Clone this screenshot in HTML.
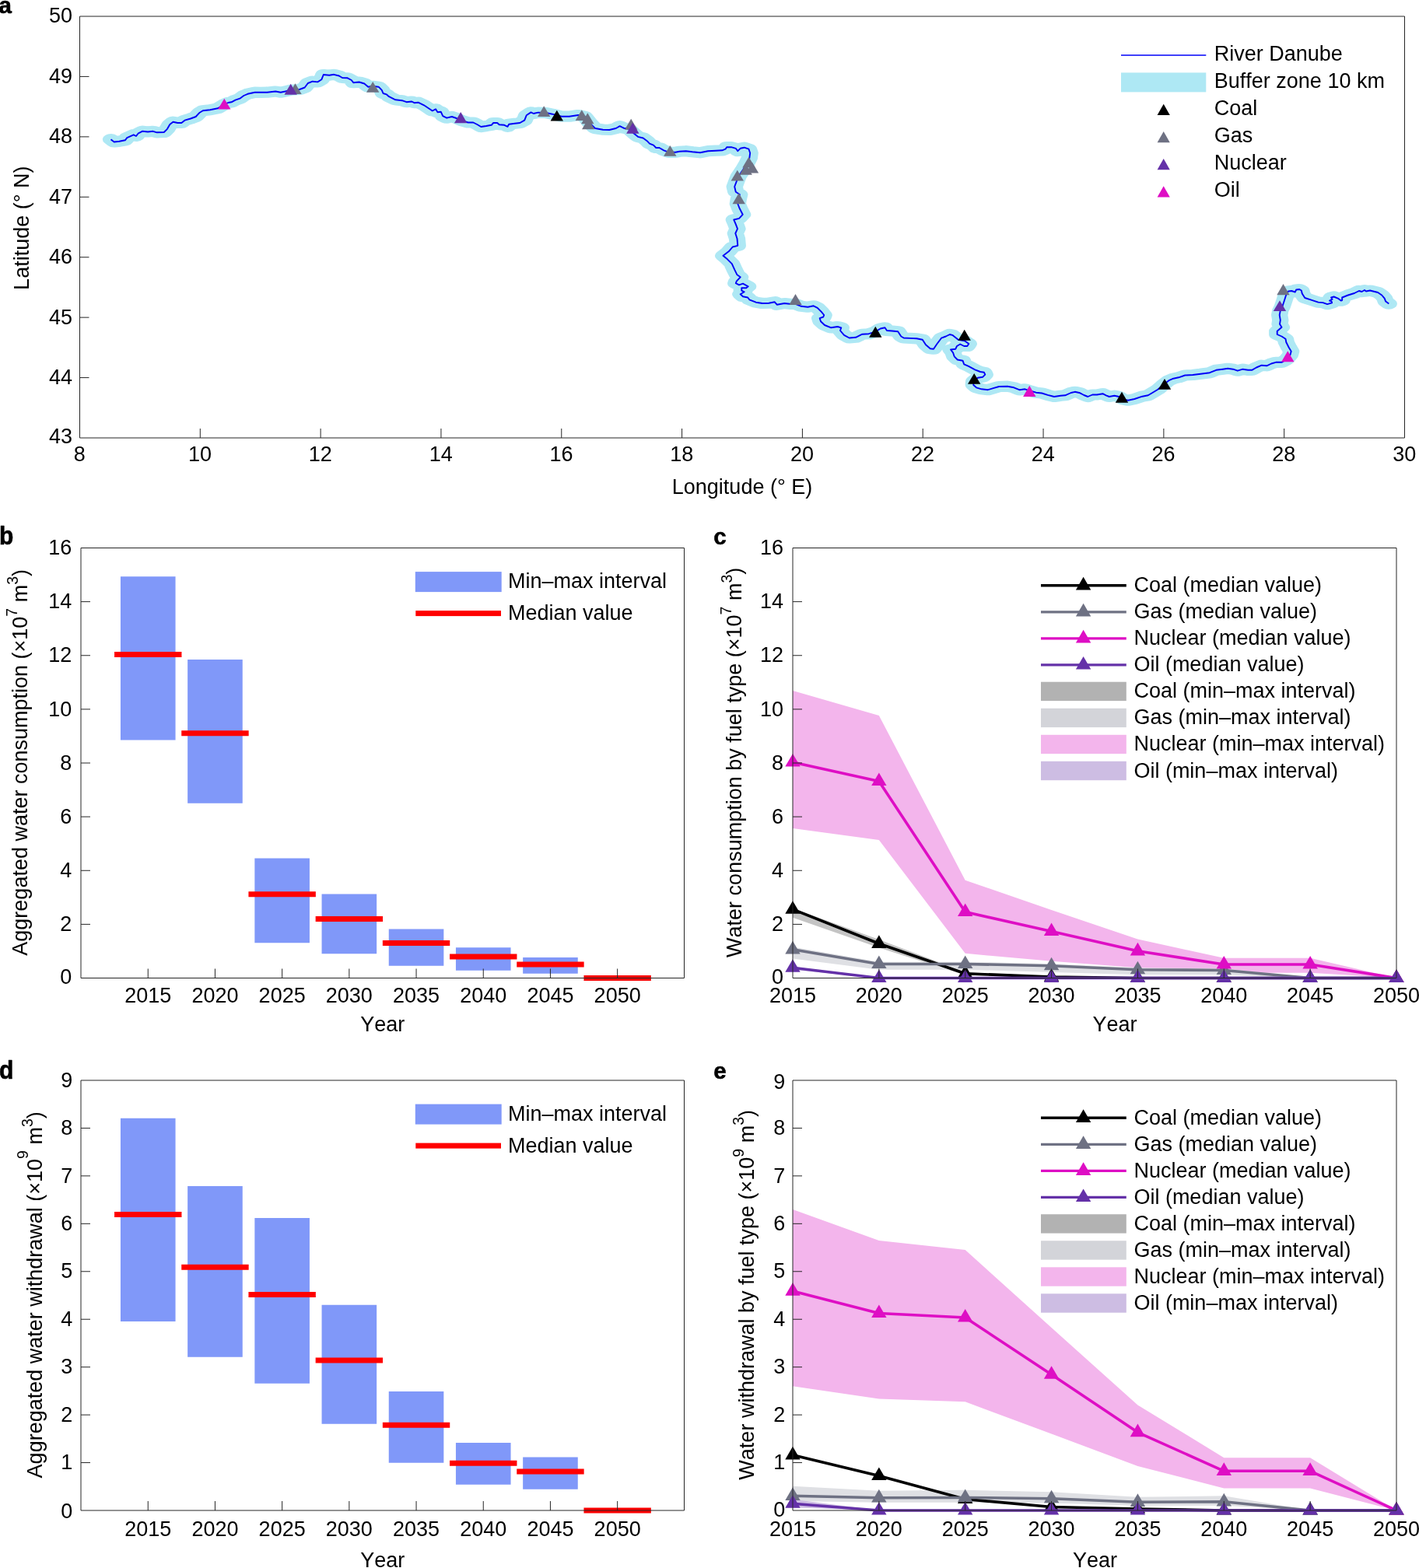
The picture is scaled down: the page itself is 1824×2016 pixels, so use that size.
<!DOCTYPE html>
<html lang="en">
<head>
<meta charset="utf-8">
<title>River Danube power plants: water consumption and withdrawal</title>
<style>
html,body{margin:0;padding:0;background:#fff;}
body{width:1824px;height:2016px;overflow:hidden;}
svg{display:block;font-family:"Liberation Sans",Arial,Helvetica,sans-serif;fill:#000;font-kerning:none;}
</style>
</head>
<body>
<svg width="1824" height="2016" viewBox="0 0 1824 2016">
<rect width="1824" height="2016" fill="#fff"/>
<g id="panel-a">
<polyline transform="scale(1.5 1)" points="95,179.2 97.8,182.5 102.2,181.7 107.2,180.3 108.87,177.2 114.47,173.3 116.67,175 118.33,171.7 122.2,168.7 126.67,169.5 131.13,168.8 134.47,170.3 140.53,170 143.33,165.8 145.53,160 148.33,156.7 152.2,158 155.53,158 158.33,154.7 163.33,152.5 167.8,150 171.13,144.7 173.87,142.2 180,141.2 186.67,139.2 192.2,134.2 195.53,132 198.33,131.3 201.67,128.7 205.53,126.7 208.87,123 212.2,120.8 218.33,118.7 223.33,118.8 228.87,118.7 236.13,117.5 240.53,118.7 244.47,117.5 248.87,115.8 256.67,115 261.13,112.5 263.87,107 267.8,104.7 272.2,105.4 275.53,102.3 277.2,96 282.2,96.7 286.13,95.8 290.53,97.5 293.33,100 297.8,100.3 301.13,103 302.8,106.2 307.8,105.5 312.2,107.5 315.53,111.7 319.33,110.8 324.47,111.7 327.2,115.8 328.33,120 331.13,121.3 333.33,124.2 338.87,128.3 344.47,129.2 348.33,131.2 352.8,130.5 355,132.2 358.33,131.7 363.33,135.3 367.8,139.7 370.53,142.5 373.33,140.3 375,144.2 377.8,143.7 379.47,149.2 382.8,151.7 387.2,150 391.13,152 395.53,155 401.13,157.5 405.53,157.5 408.87,160 412.2,163 416.67,162 421.13,160.8 422.8,158 426.13,158 427.8,160.3 432.2,160.8 435,162.8 436.13,159.7 441.13,158.8 445.53,158 449.47,154.7 451.13,148.3 455,144.4 457.2,146 461.13,144.6 467.8,145 473.33,146.7 481.13,149.7 487.8,149.7 495.53,148 501.13,150 505.53,158.3 510,165 516.67,166.7 522.2,167 527.8,165 531.13,162.2 534.47,164.7 538.87,165.8 543.33,171.7 546.67,175.8 551.13,177.5 554.47,181.2 556.67,184.7 560,186.7 562.2,190 565,190 568.87,193.3 573.33,195.8 578.87,195.8 582.2,194.7 587.8,194.2 593.33,195.3 600,196.3 606.67,194.2 613.33,193.7 618.87,193.3 621.67,191.7 622.8,189.2 626.67,189.2 630.53,190.8 632.2,194.2 634.47,190.8 637.8,189.7 641.67,191.7 642.8,196.7 642.2,203.3 640,210 636.67,218.3 632.8,226.7 631.13,233.3 629.47,240 630.53,246.7 633.87,250 632.8,256.7 632.2,262 633.87,268.3 636.47,275.8 633.33,280.8 628.87,282.5 630.53,288.3 632,294.2 630.2,300 631.67,306.7 632.2,315.8 627.8,317.5 624.47,323.3 619.67,328.8 623.33,333.3 627.2,339.2 629.47,346.7 631.67,353.3 634.47,356.3 631.13,361.7 630.53,364.2 633.33,366.3 636.67,364.7 641.13,368.3 639.47,370.3 635.53,370.3 635.53,373.7 637.8,375.3 634.47,378.3 636.67,381.3 640.8,382.5 642.2,385.3 647.8,388.7 653.33,390 658.87,389.7 663.87,388.3 665.8,391.7 672.2,390 676.67,390.8 681.67,390.8 686.67,393.8 692.2,394.7 697.2,393.3 700.53,395.8 703.87,400.8 706.13,405 705.53,407.5 702.47,409.2 703.33,413.3 706.67,418 712.2,421.3 717.8,420 720.87,421.3 720,425 723.33,430.8 727.8,434.5 733.33,433.8 738.87,429.7 744.47,429.2 750,426.7 754.47,422.5 758.33,421.3 760,425 764.47,425.5 769.47,426.3 772.2,432.5 774.47,434.5 780,434.9 785.53,435.3 790.53,436.7 793.33,443.3 797.2,448.3 800,448.7 802.8,442.5 806.67,434.7 810.53,432.5 813.87,430 816.13,430.8 821.13,436.7 826.67,438.3 830.2,442 828.87,445 826.13,445 822.8,442.5 820,445 818.87,448.7 814.67,449.5 816.67,453.3 817.8,458.3 820.53,462.5 825,463.7 826.13,468.3 830,470.8 835.53,475.3 840,478 843.33,478.8 844.2,481.7 842.2,484.7 837.8,485.8 834.47,490 834.2,495 836.67,498.3 841.13,500.3 846.67,501.2 851.13,499.2 856.13,497 863.33,496.7 868.87,498.3 873.87,501.3 878.33,500.3 882.8,502.5 887.8,504.7 892.8,505.5 897.8,507.8 903.33,510 908.87,508.8 912.8,508.3 917.8,505 921.13,503.8 925.53,505.3 928.87,508 932.2,510 936.13,507.5 940,507.5 945,506.2 947.8,508.3 950.53,510 955,508.7 958.87,510 962.2,513.3 966.67,514.7 972.2,513 978.87,509.7 983.87,508.3 987.8,504.7 992.2,500.8 996.67,495 1001.67,489.2 1005.53,486.7 1010,485.3 1015.53,482.5 1022.2,482 1028.87,480.8 1036.67,479.2 1042.2,475.8 1047.8,474.7 1052.2,473.8 1056.67,474.7 1060.53,476.7 1065,474.7 1069.47,475.8 1072.8,475.8 1076.67,472.5 1081.13,469.7 1085.53,470.3 1089.47,467.5 1093.33,465.8 1098.33,465.8 1102.2,462.5 1105.53,456.7 1106.47,451.7 1104.47,446.7 1102.2,440 1101.67,435.8 1098.33,432.5 1094.47,430 1094.47,425.8 1098.33,420.8 1096.67,416.7 1097.2,411.7 1096.47,405 1097.2,399.2 1098.87,394.2 1100.53,386.7 1102.07,379.5 1104.07,374.5 1106.8,374 1109.8,375.5 1110.8,372.5 1113.53,372 1115.2,373.5 1115.87,377.5 1118.2,383 1123.6,385.6 1129.67,388.6 1133.67,389.1 1137.4,391.1 1141.4,389.4 1141.07,387.6 1139.4,386.6 1141.73,384.6 1140.73,382.5 1143.07,381.5 1146.47,383.6 1149.13,386.6 1150.13,386.1 1150.13,382.5 1155.2,379.5 1160.6,377 1164.6,374 1167,375 1169.33,373 1170.67,374.5 1174,373.5 1180.73,376 1184.13,379.5 1186.47,383.6 1187.47,387.6 1190.2,390.6" fill="none" stroke="#aee8f4" stroke-width="14.2" stroke-linecap="round" stroke-linejoin="round"/>
<polyline points="142.5,179.2 146.7,182.5 153.3,181.7 160.8,180.3 163.3,177.2 171.7,173.3 175,175 177.5,171.7 183.3,168.7 190,169.5 196.7,168.8 201.7,170.3 210.8,170 215,165.8 218.3,160 222.5,156.7 228.3,158 233.3,158 237.5,154.7 245,152.5 251.7,150 256.7,144.7 260.8,142.2 270,141.2 280,139.2 288.3,134.2 293.3,132 297.5,131.3 302.5,128.7 308.3,126.7 313.3,123 318.3,120.8 327.5,118.7 335,118.8 343.3,118.7 354.2,117.5 360.8,118.7 366.7,117.5 373.3,115.8 385,115 391.7,112.5 395.8,107 401.7,104.7 408.3,105.4 413.3,102.3 415.8,96 423.3,96.7 429.2,95.8 435.8,97.5 440,100 446.7,100.3 451.7,103 454.2,106.2 461.7,105.5 468.3,107.5 473.3,111.7 479,110.8 486.7,111.7 490.8,115.8 492.5,120 496.7,121.3 500,124.2 508.3,128.3 516.7,129.2 522.5,131.2 529.2,130.5 532.5,132.2 537.5,131.7 545,135.3 551.7,139.7 555.8,142.5 560,140.3 562.5,144.2 566.7,143.7 569.2,149.2 574.2,151.7 580.8,150 586.7,152 593.3,155 601.7,157.5 608.3,157.5 613.3,160 618.3,163 625,162 631.7,160.8 634.2,158 639.2,158 641.7,160.3 648.3,160.8 652.5,162.8 654.2,159.7 661.7,158.8 668.3,158 674.2,154.7 676.7,148.3 682.5,144.4 685.8,146 691.7,144.6 701.7,145 710,146.7 721.7,149.7 731.7,149.7 743.3,148 751.7,150 758.3,158.3 765,165 775,166.7 783.3,167 791.7,165 796.7,162.2 801.7,164.7 808.3,165.8 815,171.7 820,175.8 826.7,177.5 831.7,181.2 835,184.7 840,186.7 843.3,190 847.5,190 853.3,193.3 860,195.8 868.3,195.8 873.3,194.7 881.7,194.2 890,195.3 900,196.3 910,194.2 920,193.7 928.3,193.3 932.5,191.7 934.2,189.2 940,189.2 945.8,190.8 948.3,194.2 951.7,190.8 956.7,189.7 962.5,191.7 964.2,196.7 963.3,203.3 960,210 955,218.3 949.2,226.7 946.7,233.3 944.2,240 945.8,246.7 950.8,250 949.2,256.7 948.3,262 950.8,268.3 954.7,275.8 950,280.8 943.3,282.5 945.8,288.3 948,294.2 945.3,300 947.5,306.7 948.3,315.8 941.7,317.5 936.7,323.3 929.5,328.8 935,333.3 940.8,339.2 944.2,346.7 947.5,353.3 951.7,356.3 946.7,361.7 945.8,364.2 950,366.3 955,364.7 961.7,368.3 959.2,370.3 953.3,370.3 953.3,373.7 956.7,375.3 951.7,378.3 955,381.3 961.2,382.5 963.3,385.3 971.7,388.7 980,390 988.3,389.7 995.8,388.3 998.7,391.7 1008.3,390 1015,390.8 1022.5,390.8 1030,393.8 1038.3,394.7 1045.8,393.3 1050.8,395.8 1055.8,400.8 1059.2,405 1058.3,407.5 1053.7,409.2 1055,413.3 1060,418 1068.3,421.3 1076.7,420 1081.3,421.3 1080,425 1085,430.8 1091.7,434.5 1100,433.8 1108.3,429.7 1116.7,429.2 1125,426.7 1131.7,422.5 1137.5,421.3 1140,425 1146.7,425.5 1154.2,426.3 1158.3,432.5 1161.7,434.5 1170,434.9 1178.3,435.3 1185.8,436.7 1190,443.3 1195.8,448.3 1200,448.7 1204.2,442.5 1210,434.7 1215.8,432.5 1220.8,430 1224.2,430.8 1231.7,436.7 1240,438.3 1245.3,442 1243.3,445 1239.2,445 1234.2,442.5 1230,445 1228.3,448.7 1222,449.5 1225,453.3 1226.7,458.3 1230.8,462.5 1237.5,463.7 1239.2,468.3 1245,470.8 1253.3,475.3 1260,478 1265,478.8 1266.3,481.7 1263.3,484.7 1256.7,485.8 1251.7,490 1251.3,495 1255,498.3 1261.7,500.3 1270,501.2 1276.7,499.2 1284.2,497 1295,496.7 1303.3,498.3 1310.8,501.3 1317.5,500.3 1324.2,502.5 1331.7,504.7 1339.2,505.5 1346.7,507.8 1355,510 1363.3,508.8 1369.2,508.3 1376.7,505 1381.7,503.8 1388.3,505.3 1393.3,508 1398.3,510 1404.2,507.5 1410,507.5 1417.5,506.2 1421.7,508.3 1425.8,510 1432.5,508.7 1438.3,510 1443.3,513.3 1450,514.7 1458.3,513 1468.3,509.7 1475.8,508.3 1481.7,504.7 1488.3,500.8 1495,495 1502.5,489.2 1508.3,486.7 1515,485.3 1523.3,482.5 1533.3,482 1543.3,480.8 1555,479.2 1563.3,475.8 1571.7,474.7 1578.3,473.8 1585,474.7 1590.8,476.7 1597.5,474.7 1604.2,475.8 1609.2,475.8 1615,472.5 1621.7,469.7 1628.3,470.3 1634.2,467.5 1640,465.8 1647.5,465.8 1653.3,462.5 1658.3,456.7 1659.7,451.7 1656.7,446.7 1653.3,440 1652.5,435.8 1647.5,432.5 1641.7,430 1641.7,425.8 1647.5,420.8 1645,416.7 1645.8,411.7 1644.7,405 1645.8,399.2 1648.3,394.2 1650.8,386.7 1653.1,379.5 1656.1,374.5 1660.2,374 1664.7,375.5 1666.2,372.5 1670.3,372 1672.8,373.5 1673.8,377.5 1677.3,383 1685.4,385.6 1694.5,388.6 1700.5,389.1 1706.1,391.1 1712.1,389.4 1711.6,387.6 1709.1,386.6 1712.6,384.6 1711.1,382.5 1714.6,381.5 1719.7,383.6 1723.7,386.6 1725.2,386.1 1725.2,382.5 1732.8,379.5 1740.9,377 1746.9,374 1750.5,375 1754,373 1756,374.5 1761,373.5 1771.1,376 1776.2,379.5 1779.7,383.6 1781.2,387.6 1785.3,390.6" fill="none" stroke="#0000f8" stroke-width="1.9" stroke-linejoin="round"/>
<polygon points="715.8,141.7 724,155.5 707.6,155.5" fill="#000000"/>
<polygon points="1125.3,419.7 1133.5,433.7 1117.1,433.7" fill="#000000"/>
<polygon points="1239.7,423.8 1247.9,437.8 1231.5,437.8" fill="#000000"/>
<polygon points="1252.2,480 1260.4,493.8 1244,493.8" fill="#000000"/>
<polygon points="1442,503.8 1450.2,517.8 1433.8,517.8" fill="#000000"/>
<polygon points="1497,487 1505.2,500.8 1488.8,500.8" fill="#000000"/>
<polygon points="379.5,107.2 387.7,121 371.3,121" fill="#6e7183"/>
<polygon points="479.2,105 487.4,118.7 471,118.7" fill="#6e7183"/>
<polygon points="699.2,136.2 707.4,150 691,150" fill="#6e7183"/>
<polygon points="747.8,141.2 756,155 739.6,155" fill="#6e7183"/>
<polygon points="755.3,145.3 763.5,159.2 747.1,159.2" fill="#6e7183"/>
<polygon points="756.2,152.5 764.4,166.3 748,166.3" fill="#6e7183"/>
<polygon points="811.2,152.8 819.4,166.7 803,166.7" fill="#6e7183"/>
<polygon points="861.3,187 869.5,200.8 853.1,200.8" fill="#6e7183"/>
<polygon points="962.5,201.7 970.7,215.5 954.3,215.5" fill="#6e7183"/>
<polygon points="958.7,210.8 966.9,224.7 950.5,224.7" fill="#6e7183"/>
<polygon points="967,208.7 975.2,222.5 958.8,222.5" fill="#6e7183"/>
<polygon points="947.8,218.7 956,232.5 939.6,232.5" fill="#6e7183"/>
<polygon points="949.7,248.3 957.9,262.2 941.5,262.2" fill="#6e7183"/>
<polygon points="1022.5,378 1030.7,392 1014.3,392" fill="#6e7183"/>
<polygon points="1649.5,365 1657.7,379.2 1641.3,379.2" fill="#6e7183"/>
<polygon points="373.7,107.8 381.9,121.7 365.5,121.7" fill="#6431a8"/>
<polygon points="592.2,143.9 600.4,158.2 584,158.2" fill="#6431a8"/>
<polygon points="813.3,157.8 821.5,171.7 805.1,171.7" fill="#6431a8"/>
<polygon points="1645,386.2 1653.2,400 1636.8,400" fill="#6431a8"/>
<polygon points="288.3,126.7 296.5,140.5 280.1,140.5" fill="#de0ec4"/>
<polygon points="1323.3,495.8 1331.5,510 1315.1,510" fill="#de0ec4"/>
<polygon points="1655.3,451.3 1663.5,465.3 1647.1,465.3" fill="#de0ec4"/>
<path d="M102.5 21H1805.5V563H102.5ZM257.32 563v-12M412.14 563v-12M566.95 563v-12M721.77 563v-12M876.59 563v-12M1031.41 563v-12M1186.23 563v-12M1341.05 563v-12M1495.86 563v-12M1650.68 563v-12M102.5 485.57h12M102.5 408.14h12M102.5 330.71h12M102.5 253.29h12M102.5 175.86h12M102.5 98.43h12" fill="none" stroke="#262626" stroke-width="1.0"/>
<text x="93" y="570.3" text-anchor="end" font-size="27">43</text>
<text x="93" y="494.07" text-anchor="end" font-size="27">44</text>
<text x="93" y="416.64" text-anchor="end" font-size="27">45</text>
<text x="93" y="339.21" text-anchor="end" font-size="27">46</text>
<text x="93" y="261.79" text-anchor="end" font-size="27">47</text>
<text x="93" y="184.36" text-anchor="end" font-size="27">48</text>
<text x="93" y="106.93" text-anchor="end" font-size="27">49</text>
<text x="93" y="28.9" text-anchor="end" font-size="27">50</text>
<text x="102.2" y="593.2" text-anchor="middle" font-size="27">8</text>
<text x="257.02" y="593.2" text-anchor="middle" font-size="27">10</text>
<text x="411.84" y="593.2" text-anchor="middle" font-size="27">12</text>
<text x="566.65" y="593.2" text-anchor="middle" font-size="27">14</text>
<text x="721.47" y="593.2" text-anchor="middle" font-size="27">16</text>
<text x="876.29" y="593.2" text-anchor="middle" font-size="27">18</text>
<text x="1031.11" y="593.2" text-anchor="middle" font-size="27">20</text>
<text x="1185.93" y="593.2" text-anchor="middle" font-size="27">22</text>
<text x="1340.75" y="593.2" text-anchor="middle" font-size="27">24</text>
<text x="1495.56" y="593.2" text-anchor="middle" font-size="27">26</text>
<text x="1650.38" y="593.2" text-anchor="middle" font-size="27">28</text>
<text x="1805.2" y="593.2" text-anchor="middle" font-size="27">30</text>
<text transform="translate(37 293.2) rotate(-90)" text-anchor="middle" font-size="27">Latitude (° N)</text>
<text x="954" y="635" text-anchor="middle" font-size="27">Longitude (° E)</text>
<line x1="1441" y1="71" x2="1550.3" y2="71" stroke="#0000f8" stroke-width="1.4"/>
<rect x="1441" y="93.4" width="109.3" height="25" fill="#aee8f4"/>
<text x="1560.8" y="78.3" text-anchor="start" font-size="27">River Danube</text>
<text x="1560.8" y="113.4" text-anchor="start" font-size="27">Buffer zone 10 km</text>
<text x="1560.8" y="148.2" text-anchor="start" font-size="27">Coal</text>
<text x="1560.8" y="183.1" text-anchor="start" font-size="27">Gas</text>
<text x="1560.8" y="218" text-anchor="start" font-size="27">Nuclear</text>
<text x="1560.8" y="253.4" text-anchor="start" font-size="27">Oil</text>
<polygon points="1495.7,133.8 1503.8,148.1 1487.6,148.1" fill="#000000"/>
<polygon points="1495.7,169 1503.8,183.3 1487.6,183.3" fill="#6e7183"/>
<polygon points="1495.7,204 1503.8,218.3 1487.6,218.3" fill="#6431a8"/>
<polygon points="1495.7,239.2 1503.8,253.5 1487.6,253.5" fill="#de0ec4"/>
</g>
<g id="panel-b">
<rect x="154.95" y="741.25" width="70.6" height="210.25" fill="#8098f9"/>
<rect x="241.15" y="848" width="70.6" height="184.75" fill="#8098f9"/>
<rect x="327.35" y="1103.5" width="70.6" height="108.75" fill="#8098f9"/>
<rect x="413.55" y="1149.5" width="70.6" height="76.75" fill="#8098f9"/>
<rect x="499.75" y="1194.5" width="70.6" height="47.25" fill="#8098f9"/>
<rect x="585.95" y="1218.25" width="70.6" height="29.5" fill="#8098f9"/>
<rect x="672.15" y="1231" width="70.6" height="20.75" fill="#8098f9"/>
<rect x="147.05" y="838" width="86.4" height="7" fill="#ff0000"/>
<rect x="233.25" y="939.25" width="86.4" height="7" fill="#ff0000"/>
<rect x="319.45" y="1146.25" width="86.4" height="7" fill="#ff0000"/>
<rect x="405.65" y="1178" width="86.4" height="7" fill="#ff0000"/>
<rect x="491.85" y="1209" width="86.4" height="7" fill="#ff0000"/>
<rect x="578.05" y="1226.5" width="86.4" height="7" fill="#ff0000"/>
<rect x="664.25" y="1236.5" width="86.4" height="7" fill="#ff0000"/>
<rect x="750.45" y="1254" width="86.4" height="7" fill="#ff0000"/>
<path d="M104 704.5H879.5V1257.5H104ZM190.25 1257.5v-12M276.45 1257.5v-12M362.65 1257.5v-12M448.85 1257.5v-12M535.05 1257.5v-12M621.25 1257.5v-12M707.45 1257.5v-12M793.65 1257.5v-12M104 1188.38h12M104 1119.25h12M104 1050.12h12M104 981h12M104 911.88h12M104 842.75h12M104 773.62h12" fill="none" stroke="#262626" stroke-width="1.0"/>
<text x="92.2" y="1265.2" text-anchor="end" font-size="27">0</text>
<text x="92.2" y="1197.08" text-anchor="end" font-size="27">2</text>
<text x="92.2" y="1127.95" text-anchor="end" font-size="27">4</text>
<text x="92.2" y="1058.83" text-anchor="end" font-size="27">6</text>
<text x="92.2" y="989.7" text-anchor="end" font-size="27">8</text>
<text x="92.2" y="920.58" text-anchor="end" font-size="27">10</text>
<text x="92.2" y="851.45" text-anchor="end" font-size="27">12</text>
<text x="92.2" y="782.33" text-anchor="end" font-size="27">14</text>
<text x="92.2" y="713.2" text-anchor="end" font-size="27">16</text>
<text x="190.25" y="1288.7" text-anchor="middle" font-size="27">2015</text>
<text x="276.45" y="1288.7" text-anchor="middle" font-size="27">2020</text>
<text x="362.65" y="1288.7" text-anchor="middle" font-size="27">2025</text>
<text x="448.85" y="1288.7" text-anchor="middle" font-size="27">2030</text>
<text x="535.05" y="1288.7" text-anchor="middle" font-size="27">2035</text>
<text x="621.25" y="1288.7" text-anchor="middle" font-size="27">2040</text>
<text x="707.45" y="1288.7" text-anchor="middle" font-size="27">2045</text>
<text x="793.65" y="1288.7" text-anchor="middle" font-size="27">2050</text>
<text x="491.75" y="1325.8" text-anchor="middle" font-size="27">Year</text>
<text transform="translate(35 980.3) rotate(-90)" text-anchor="middle" font-size="27">Aggregated water consumption (×10<tspan font-size="19.5" dy="-12.9">7</tspan><tspan dy="12.9"> m</tspan><tspan font-size="19.5" dy="-12.2">3</tspan><tspan dy="12.2">)</tspan></text>
<rect x="533.8" y="735.1" width="110.9" height="26" fill="#8098f9"/>
<rect x="534.3" y="785.1" width="109.7" height="7" fill="#ff0000"/>
<text x="653" y="756.2" text-anchor="start" font-size="27">Min–max interval</text>
<text x="653" y="797.3" text-anchor="start" font-size="27">Median value</text>
</g>
<g id="panel-d">
<rect x="154.95" y="1437.75" width="70.6" height="261.25" fill="#8098f9"/>
<rect x="241.15" y="1525" width="70.6" height="219.75" fill="#8098f9"/>
<rect x="327.35" y="1566" width="70.6" height="212.75" fill="#8098f9"/>
<rect x="413.55" y="1677.75" width="70.6" height="153" fill="#8098f9"/>
<rect x="499.75" y="1789" width="70.6" height="91.75" fill="#8098f9"/>
<rect x="585.95" y="1855" width="70.6" height="53.75" fill="#8098f9"/>
<rect x="672.15" y="1873.5" width="70.6" height="41.25" fill="#8098f9"/>
<rect x="147.05" y="1558" width="86.4" height="7" fill="#ff0000"/>
<rect x="233.25" y="1625.75" width="86.4" height="7" fill="#ff0000"/>
<rect x="319.45" y="1661" width="86.4" height="7" fill="#ff0000"/>
<rect x="405.65" y="1745.5" width="86.4" height="7" fill="#ff0000"/>
<rect x="491.85" y="1828.75" width="86.4" height="7" fill="#ff0000"/>
<rect x="578.05" y="1877.75" width="86.4" height="7" fill="#ff0000"/>
<rect x="664.25" y="1888.5" width="86.4" height="7" fill="#ff0000"/>
<rect x="750.45" y="1938.5" width="86.4" height="7" fill="#ff0000"/>
<path d="M104 1389H879.5V1942H104ZM190.25 1942v-12M276.45 1942v-12M362.65 1942v-12M448.85 1942v-12M535.05 1942v-12M621.25 1942v-12M707.45 1942v-12M793.65 1942v-12M104 1880.56h12M104 1819.11h12M104 1757.67h12M104 1696.22h12M104 1634.78h12M104 1573.33h12M104 1511.89h12M104 1450.44h12" fill="none" stroke="#262626" stroke-width="1.0"/>
<text x="93.4" y="1951.8" text-anchor="end" font-size="27">0</text>
<text x="93.4" y="1889.26" text-anchor="end" font-size="27">1</text>
<text x="93.4" y="1827.81" text-anchor="end" font-size="27">2</text>
<text x="93.4" y="1766.37" text-anchor="end" font-size="27">3</text>
<text x="93.4" y="1704.92" text-anchor="end" font-size="27">4</text>
<text x="93.4" y="1643.48" text-anchor="end" font-size="27">5</text>
<text x="93.4" y="1582.03" text-anchor="end" font-size="27">6</text>
<text x="93.4" y="1520.59" text-anchor="end" font-size="27">7</text>
<text x="93.4" y="1459.14" text-anchor="end" font-size="27">8</text>
<text x="93.4" y="1397.7" text-anchor="end" font-size="27">9</text>
<text x="190.25" y="1974.5" text-anchor="middle" font-size="27">2015</text>
<text x="276.45" y="1974.5" text-anchor="middle" font-size="27">2020</text>
<text x="362.65" y="1974.5" text-anchor="middle" font-size="27">2025</text>
<text x="448.85" y="1974.5" text-anchor="middle" font-size="27">2030</text>
<text x="535.05" y="1974.5" text-anchor="middle" font-size="27">2035</text>
<text x="621.25" y="1974.5" text-anchor="middle" font-size="27">2040</text>
<text x="707.45" y="1974.5" text-anchor="middle" font-size="27">2045</text>
<text x="793.65" y="1974.5" text-anchor="middle" font-size="27">2050</text>
<text x="491.75" y="2014.7" text-anchor="middle" font-size="27">Year</text>
<text transform="translate(53.5 1664.8) rotate(-90)" text-anchor="middle" font-size="27">Aggregated water withdrawal (×10<tspan font-size="19.5" dy="-17.7">9</tspan><tspan dy="17.7"> m</tspan><tspan font-size="19.5" dy="-11.6">3</tspan><tspan dy="11.6">)</tspan></text>
<rect x="533.8" y="1419.6" width="110.9" height="26" fill="#8098f9"/>
<rect x="534.3" y="1469.6" width="109.7" height="7" fill="#ff0000"/>
<text x="653" y="1440.7" text-anchor="start" font-size="27">Min–max interval</text>
<text x="653" y="1481.8" text-anchor="start" font-size="27">Median value</text>
</g>
<g id="panel-c">
<polygon points="1019,888.03 1129.86,920 1240.71,1131.73 1351.57,1169.99 1462.43,1207.49 1573.29,1231.72 1684.14,1231.72 1795,1257.5 1795,1257.5 1684.14,1250.79 1573.29,1250.79 1462.43,1244.19 1351.57,1235.79 1240.71,1225.81 1129.86,1079.99 1019,1064.99" fill="#f3b5ec"/>
<polygon points="1019,1167.64 1129.86,1208.08 1240.71,1249.9 1351.57,1255.43 1462.43,1257.5 1573.29,1257.5 1684.14,1257.5 1795,1257.5 1795,1257.5 1684.14,1257.5 1573.29,1257.5 1462.43,1257.5 1351.57,1257.5 1240.71,1253.7 1129.86,1218.44 1019,1179.73" fill="#c4c4c4"/>
<polygon points="1019,1217.51 1129.86,1236.69 1240.71,1236.69 1351.57,1239.18 1462.43,1244.19 1573.29,1244.99 1684.14,1257.5 1795,1257.5 1795,1257.5 1684.14,1257.5 1573.29,1253.35 1462.43,1253.35 1351.57,1250 1240.71,1246.72 1129.86,1246.72 1019,1232.51" fill="#dfe0e4"/>
<polygon points="1019,1242.64 1129.86,1257.5 1240.71,1257.5 1351.57,1257.5 1462.43,1257.5 1573.29,1257.5 1684.14,1257.5 1795,1257.5 1795,1257.5 1684.14,1257.5 1573.29,1257.5 1462.43,1257.5 1351.57,1257.5 1240.71,1257.5 1129.86,1257.5 1019,1246.79" fill="#cdbde3"/>
<polyline points="1019,1169.19 1129.86,1213.29 1240.71,1251.69 1351.57,1256.12 1462.43,1257.5 1573.29,1257.5 1684.14,1257.5 1795,1257.5" fill="none" stroke="#000000" stroke-width="3.6" stroke-linejoin="round"/>
<polygon points="1019,1158.19 1028.7,1174.79 1009.3,1174.79" fill="#000000"/>
<polygon points="1129.86,1202.29 1139.56,1218.89 1120.16,1218.89" fill="#000000"/>
<polygon points="1240.71,1240.69 1250.41,1257.29 1231.01,1257.29" fill="#000000"/>
<polygon points="1351.57,1245.12 1361.27,1261.72 1341.87,1261.72" fill="#000000"/>
<polygon points="1462.43,1246.5 1472.13,1263.1 1452.73,1263.1" fill="#000000"/>
<polygon points="1573.29,1246.5 1582.99,1263.1 1563.59,1263.1" fill="#000000"/>
<polygon points="1684.14,1246.5 1693.84,1263.1 1674.44,1263.1" fill="#000000"/>
<polygon points="1795,1246.5 1804.7,1263.1 1785.3,1263.1" fill="#000000"/>
<polyline points="1019,1220.79 1129.86,1239.49 1240.71,1239.49 1351.57,1241.7 1462.43,1246.72 1573.29,1247.51 1684.14,1257.5 1795,1257.5" fill="none" stroke="#6e7183" stroke-width="3.6" stroke-linejoin="round"/>
<polygon points="1019,1209.79 1028.7,1226.39 1009.3,1226.39" fill="#6e7183"/>
<polygon points="1129.86,1228.49 1139.56,1245.09 1120.16,1245.09" fill="#6e7183"/>
<polygon points="1240.71,1228.49 1250.41,1245.09 1231.01,1245.09" fill="#6e7183"/>
<polygon points="1351.57,1230.7 1361.27,1247.3 1341.87,1247.3" fill="#6e7183"/>
<polygon points="1462.43,1235.72 1472.13,1252.32 1452.73,1252.32" fill="#6e7183"/>
<polygon points="1573.29,1236.51 1582.99,1253.11 1563.59,1253.11" fill="#6e7183"/>
<polygon points="1684.14,1246.5 1693.84,1263.1 1674.44,1263.1" fill="#6e7183"/>
<polygon points="1795,1246.5 1804.7,1263.1 1785.3,1263.1" fill="#6e7183"/>
<polyline points="1019,980 1129.86,1004.5 1240.71,1172.51 1351.57,1197.5 1462.43,1222.8 1573.29,1240.01 1684.14,1240.01 1795,1257.5" fill="none" stroke="#de0ec4" stroke-width="3.6" stroke-linejoin="round"/>
<polygon points="1019,969 1028.7,985.6 1009.3,985.6" fill="#de0ec4"/>
<polygon points="1129.86,993.5 1139.56,1010.1 1120.16,1010.1" fill="#de0ec4"/>
<polygon points="1240.71,1161.51 1250.41,1178.11 1231.01,1178.11" fill="#de0ec4"/>
<polygon points="1351.57,1186.5 1361.27,1203.1 1341.87,1203.1" fill="#de0ec4"/>
<polygon points="1462.43,1211.8 1472.13,1228.4 1452.73,1228.4" fill="#de0ec4"/>
<polygon points="1573.29,1229.01 1582.99,1245.61 1563.59,1245.61" fill="#de0ec4"/>
<polygon points="1684.14,1229.01 1693.84,1245.61 1674.44,1245.61" fill="#de0ec4"/>
<polygon points="1795,1246.5 1804.7,1263.1 1785.3,1263.1" fill="#de0ec4"/>
<polyline points="1019,1244.19 1129.86,1257.5 1240.71,1257.5 1351.57,1257.5 1462.43,1257.5 1573.29,1257.5 1684.14,1257.5 1795,1257.5" fill="none" stroke="#6431a8" stroke-width="3.6" stroke-linejoin="round"/>
<polygon points="1019,1233.19 1028.7,1249.79 1009.3,1249.79" fill="#6431a8"/>
<polygon points="1129.86,1246.5 1139.56,1263.1 1120.16,1263.1" fill="#6431a8"/>
<polygon points="1240.71,1246.5 1250.41,1263.1 1231.01,1263.1" fill="#6431a8"/>
<polygon points="1351.57,1246.5 1361.27,1263.1 1341.87,1263.1" fill="#6431a8"/>
<polygon points="1462.43,1246.5 1472.13,1263.1 1452.73,1263.1" fill="#6431a8"/>
<polygon points="1573.29,1246.5 1582.99,1263.1 1563.59,1263.1" fill="#6431a8"/>
<polygon points="1684.14,1246.5 1693.84,1263.1 1674.44,1263.1" fill="#6431a8"/>
<polygon points="1795,1246.5 1804.7,1263.1 1785.3,1263.1" fill="#6431a8"/>
<path d="M1019 704.5H1795V1257.5H1019ZM1129.86 1257.5v-12M1240.71 1257.5v-12M1351.57 1257.5v-12M1462.43 1257.5v-12M1573.29 1257.5v-12M1684.14 1257.5v-12M1019 1188.38h12M1019 1119.25h12M1019 1050.12h12M1019 981h12M1019 911.88h12M1019 842.75h12M1019 773.62h12" fill="none" stroke="#262626" stroke-width="1.0"/>
<text x="1007" y="1265.2" text-anchor="end" font-size="27">0</text>
<text x="1007" y="1197.08" text-anchor="end" font-size="27">2</text>
<text x="1007" y="1127.95" text-anchor="end" font-size="27">4</text>
<text x="1007" y="1058.83" text-anchor="end" font-size="27">6</text>
<text x="1007" y="989.7" text-anchor="end" font-size="27">8</text>
<text x="1007" y="920.58" text-anchor="end" font-size="27">10</text>
<text x="1007" y="851.45" text-anchor="end" font-size="27">12</text>
<text x="1007" y="782.33" text-anchor="end" font-size="27">14</text>
<text x="1007" y="713.2" text-anchor="end" font-size="27">16</text>
<text x="1019" y="1288.7" text-anchor="middle" font-size="27">2015</text>
<text x="1129.86" y="1288.7" text-anchor="middle" font-size="27">2020</text>
<text x="1240.71" y="1288.7" text-anchor="middle" font-size="27">2025</text>
<text x="1351.57" y="1288.7" text-anchor="middle" font-size="27">2030</text>
<text x="1462.43" y="1288.7" text-anchor="middle" font-size="27">2035</text>
<text x="1573.29" y="1288.7" text-anchor="middle" font-size="27">2040</text>
<text x="1684.14" y="1288.7" text-anchor="middle" font-size="27">2045</text>
<text x="1795" y="1288.7" text-anchor="middle" font-size="27">2050</text>
<text x="1433" y="1325.8" text-anchor="middle" font-size="27">Year</text>
<text transform="translate(953.3 980.3) rotate(-90)" text-anchor="middle" font-size="27">Water consumption by fuel type (×10<tspan font-size="19.5" dy="-12.9">7</tspan><tspan dy="12.9"> m</tspan><tspan font-size="19.5" dy="-12.2">3</tspan><tspan dy="12.2">)</tspan></text>
<line x1="1338" y1="752.8" x2="1447.8" y2="752.8" stroke="#000000" stroke-width="3.4"/>
<polygon points="1392.6,741.8 1402.3,758.4 1382.9,758.4" fill="#000000"/>
<text x="1457.4" y="761.3" text-anchor="start" font-size="27">Coal (median value)</text>
<line x1="1338" y1="786.83" x2="1447.8" y2="786.83" stroke="#6e7183" stroke-width="3.4"/>
<polygon points="1392.6,775.83 1402.3,792.43 1382.9,792.43" fill="#6e7183"/>
<text x="1457.4" y="795.33" text-anchor="start" font-size="27">Gas (median value)</text>
<line x1="1338" y1="820.86" x2="1447.8" y2="820.86" stroke="#de0ec4" stroke-width="3.4"/>
<polygon points="1392.6,809.86 1402.3,826.46 1382.9,826.46" fill="#de0ec4"/>
<text x="1457.4" y="829.36" text-anchor="start" font-size="27">Nuclear (median value)</text>
<line x1="1338" y1="854.89" x2="1447.8" y2="854.89" stroke="#6431a8" stroke-width="3.4"/>
<polygon points="1392.6,843.89 1402.3,860.49 1382.9,860.49" fill="#6431a8"/>
<text x="1457.4" y="863.39" text-anchor="start" font-size="27">Oil (median value)</text>
<rect x="1338" y="876.72" width="109.8" height="24.4" fill="#b2b2b2"/>
<text x="1457.4" y="897.42" text-anchor="start" font-size="27">Coal (min–max interval)</text>
<rect x="1338" y="910.75" width="109.8" height="24.4" fill="#d3d4d9"/>
<text x="1457.4" y="931.45" text-anchor="start" font-size="27">Gas (min–max interval)</text>
<rect x="1338" y="944.78" width="109.8" height="24.4" fill="#f3b5ec"/>
<text x="1457.4" y="965.48" text-anchor="start" font-size="27">Nuclear (min–max interval)</text>
<rect x="1338" y="978.81" width="109.8" height="24.4" fill="#cdbde3"/>
<text x="1457.4" y="999.51" text-anchor="start" font-size="27">Oil (min–max interval)</text>
</g>
<g id="panel-e">
<polygon points="1019,1555.02 1129.86,1595.02 1240.71,1607 1351.57,1706.97 1462.43,1806.51 1573.29,1874.23 1684.14,1874.23 1795,1942 1795,1942 1684.14,1913.43 1573.29,1913.43 1462.43,1884.98 1351.57,1843.5 1240.71,1802.28 1129.86,1798.53 1019,1782.24" fill="#f3b5ec"/>
<polygon points="1019,1870.11 1129.86,1896.84 1240.71,1926.95 1351.57,1937.08 1462.43,1939.85 1573.29,1942 1684.14,1942 1795,1942 1795,1942 1684.14,1942 1573.29,1942 1462.43,1940.16 1351.57,1938.01 1240.71,1928.17 1129.86,1898.07 1019,1871.65" fill="#c4c4c4"/>
<polygon points="1019,1910.79 1129.86,1916.68 1240.71,1915.82 1351.57,1918.28 1462.43,1924.67 1573.29,1923.32 1684.14,1942 1795,1942 1795,1942 1684.14,1942 1573.29,1935.79 1462.43,1935.79 1351.57,1932.48 1240.71,1931.68 1129.86,1931.68 1019,1930.02" fill="#dfe0e4"/>
<polygon points="1019,1927.87 1129.86,1942 1240.71,1942 1351.57,1942 1462.43,1942 1573.29,1942 1684.14,1942 1795,1942 1795,1942 1684.14,1942 1573.29,1942 1462.43,1942 1351.57,1942 1240.71,1942 1129.86,1942 1019,1938.31" fill="#cdbde3"/>
<polyline points="1019,1870.79 1129.86,1897.51 1240.71,1927.5 1351.57,1937.51 1462.43,1939.97 1573.29,1942 1684.14,1942 1795,1942" fill="none" stroke="#000000" stroke-width="3.6" stroke-linejoin="round"/>
<polygon points="1019,1859.79 1028.7,1876.39 1009.3,1876.39" fill="#000000"/>
<polygon points="1129.86,1886.51 1139.56,1903.11 1120.16,1903.11" fill="#000000"/>
<polygon points="1240.71,1916.5 1250.41,1933.1 1231.01,1933.1" fill="#000000"/>
<polygon points="1351.57,1926.51 1361.27,1943.11 1341.87,1943.11" fill="#000000"/>
<polygon points="1462.43,1928.97 1472.13,1945.57 1452.73,1945.57" fill="#000000"/>
<polygon points="1573.29,1931 1582.99,1947.6 1563.59,1947.6" fill="#000000"/>
<polygon points="1684.14,1931 1693.84,1947.6 1674.44,1947.6" fill="#000000"/>
<polygon points="1795,1931 1804.7,1947.6 1785.3,1947.6" fill="#000000"/>
<polyline points="1019,1923.32 1129.86,1925.78 1240.71,1925.47 1351.57,1926.7 1462.43,1931.31 1573.29,1930.82 1684.14,1942 1795,1942" fill="none" stroke="#6e7183" stroke-width="3.6" stroke-linejoin="round"/>
<polygon points="1019,1912.32 1028.7,1928.92 1009.3,1928.92" fill="#6e7183"/>
<polygon points="1129.86,1914.78 1139.56,1931.38 1120.16,1931.38" fill="#6e7183"/>
<polygon points="1240.71,1914.47 1250.41,1931.07 1231.01,1931.07" fill="#6e7183"/>
<polygon points="1351.57,1915.7 1361.27,1932.3 1341.87,1932.3" fill="#6e7183"/>
<polygon points="1462.43,1920.31 1472.13,1936.91 1452.73,1936.91" fill="#6e7183"/>
<polygon points="1573.29,1919.82 1582.99,1936.42 1563.59,1936.42" fill="#6e7183"/>
<polygon points="1684.14,1931 1693.84,1947.6 1674.44,1947.6" fill="#6e7183"/>
<polygon points="1795,1931 1804.7,1947.6 1785.3,1947.6" fill="#6e7183"/>
<polyline points="1019,1660.03 1129.86,1688.48 1240.71,1694.01 1351.57,1767.25 1462.43,1841.6 1573.29,1891.31 1684.14,1891.31 1795,1942" fill="none" stroke="#de0ec4" stroke-width="3.6" stroke-linejoin="round"/>
<polygon points="1019,1649.03 1028.7,1665.63 1009.3,1665.63" fill="#de0ec4"/>
<polygon points="1129.86,1677.48 1139.56,1694.08 1120.16,1694.08" fill="#de0ec4"/>
<polygon points="1240.71,1683.01 1250.41,1699.61 1231.01,1699.61" fill="#de0ec4"/>
<polygon points="1351.57,1756.25 1361.27,1772.85 1341.87,1772.85" fill="#de0ec4"/>
<polygon points="1462.43,1830.6 1472.13,1847.2 1452.73,1847.2" fill="#de0ec4"/>
<polygon points="1573.29,1880.31 1582.99,1896.91 1563.59,1896.91" fill="#de0ec4"/>
<polygon points="1684.14,1880.31 1693.84,1896.91 1674.44,1896.91" fill="#de0ec4"/>
<polygon points="1795,1931 1804.7,1947.6 1785.3,1947.6" fill="#de0ec4"/>
<polyline points="1019,1933.27 1129.86,1942 1240.71,1942 1351.57,1942 1462.43,1942 1573.29,1942 1684.14,1942 1795,1942" fill="none" stroke="#6431a8" stroke-width="3.6" stroke-linejoin="round"/>
<polygon points="1019,1922.27 1028.7,1938.87 1009.3,1938.87" fill="#6431a8"/>
<polygon points="1129.86,1931 1139.56,1947.6 1120.16,1947.6" fill="#6431a8"/>
<polygon points="1240.71,1931 1250.41,1947.6 1231.01,1947.6" fill="#6431a8"/>
<polygon points="1351.57,1931 1361.27,1947.6 1341.87,1947.6" fill="#6431a8"/>
<polygon points="1462.43,1931 1472.13,1947.6 1452.73,1947.6" fill="#6431a8"/>
<polygon points="1573.29,1931 1582.99,1947.6 1563.59,1947.6" fill="#6431a8"/>
<polygon points="1684.14,1931 1693.84,1947.6 1674.44,1947.6" fill="#6431a8"/>
<polygon points="1795,1931 1804.7,1947.6 1785.3,1947.6" fill="#6431a8"/>
<path d="M1019 1389H1795V1942H1019ZM1129.86 1942v-12M1240.71 1942v-12M1351.57 1942v-12M1462.43 1942v-12M1573.29 1942v-12M1684.14 1942v-12M1019 1880.56h12M1019 1819.11h12M1019 1757.67h12M1019 1696.22h12M1019 1634.78h12M1019 1573.33h12M1019 1511.89h12M1019 1450.44h12" fill="none" stroke="#262626" stroke-width="1.0"/>
<text x="1009.4" y="1950.3" text-anchor="end" font-size="27">0</text>
<text x="1009.4" y="1889.26" text-anchor="end" font-size="27">1</text>
<text x="1009.4" y="1827.81" text-anchor="end" font-size="27">2</text>
<text x="1009.4" y="1766.37" text-anchor="end" font-size="27">3</text>
<text x="1009.4" y="1704.92" text-anchor="end" font-size="27">4</text>
<text x="1009.4" y="1643.48" text-anchor="end" font-size="27">5</text>
<text x="1009.4" y="1582.03" text-anchor="end" font-size="27">6</text>
<text x="1009.4" y="1520.59" text-anchor="end" font-size="27">7</text>
<text x="1009.4" y="1459.14" text-anchor="end" font-size="27">8</text>
<text x="1009.4" y="1399.5" text-anchor="end" font-size="27">9</text>
<text x="1019" y="1974.5" text-anchor="middle" font-size="27">2015</text>
<text x="1129.86" y="1974.5" text-anchor="middle" font-size="27">2020</text>
<text x="1240.71" y="1974.5" text-anchor="middle" font-size="27">2025</text>
<text x="1351.57" y="1974.5" text-anchor="middle" font-size="27">2030</text>
<text x="1462.43" y="1974.5" text-anchor="middle" font-size="27">2035</text>
<text x="1573.29" y="1974.5" text-anchor="middle" font-size="27">2040</text>
<text x="1684.14" y="1974.5" text-anchor="middle" font-size="27">2045</text>
<text x="1795" y="1974.5" text-anchor="middle" font-size="27">2050</text>
<text x="1407.5" y="2014.7" text-anchor="middle" font-size="27">Year</text>
<text transform="translate(968.5 1664.8) rotate(-90)" text-anchor="middle" font-size="27">Water withdrawal by fuel type (×10<tspan font-size="19.5" dy="-12.2">9</tspan><tspan dy="12.2"> m</tspan><tspan font-size="19.5" dy="-12.2">3</tspan><tspan dy="12.2">)</tspan></text>
<line x1="1338" y1="1437.3" x2="1447.8" y2="1437.3" stroke="#000000" stroke-width="3.4"/>
<polygon points="1392.6,1426.3 1402.3,1442.9 1382.9,1442.9" fill="#000000"/>
<text x="1457.4" y="1445.8" text-anchor="start" font-size="27">Coal (median value)</text>
<line x1="1338" y1="1471.33" x2="1447.8" y2="1471.33" stroke="#6e7183" stroke-width="3.4"/>
<polygon points="1392.6,1460.33 1402.3,1476.93 1382.9,1476.93" fill="#6e7183"/>
<text x="1457.4" y="1479.83" text-anchor="start" font-size="27">Gas (median value)</text>
<line x1="1338" y1="1505.36" x2="1447.8" y2="1505.36" stroke="#de0ec4" stroke-width="3.4"/>
<polygon points="1392.6,1494.36 1402.3,1510.96 1382.9,1510.96" fill="#de0ec4"/>
<text x="1457.4" y="1513.86" text-anchor="start" font-size="27">Nuclear (median value)</text>
<line x1="1338" y1="1539.39" x2="1447.8" y2="1539.39" stroke="#6431a8" stroke-width="3.4"/>
<polygon points="1392.6,1528.39 1402.3,1544.99 1382.9,1544.99" fill="#6431a8"/>
<text x="1457.4" y="1547.89" text-anchor="start" font-size="27">Oil (median value)</text>
<rect x="1338" y="1561.22" width="109.8" height="24.4" fill="#b2b2b2"/>
<text x="1457.4" y="1581.92" text-anchor="start" font-size="27">Coal (min–max interval)</text>
<rect x="1338" y="1595.25" width="109.8" height="24.4" fill="#d3d4d9"/>
<text x="1457.4" y="1615.95" text-anchor="start" font-size="27">Gas (min–max interval)</text>
<rect x="1338" y="1629.28" width="109.8" height="24.4" fill="#f3b5ec"/>
<text x="1457.4" y="1649.98" text-anchor="start" font-size="27">Nuclear (min–max interval)</text>
<rect x="1338" y="1663.31" width="109.8" height="24.4" fill="#cdbde3"/>
<text x="1457.4" y="1684.01" text-anchor="start" font-size="27">Oil (min–max interval)</text>
</g>
<text transform="translate(-1.5 17) scale(1 1.03)" font-size="29.5" font-weight="bold" stroke="#000" stroke-width="0.6" stroke-linejoin="round">a</text>
<text transform="translate(-1.1 700.2) scale(1 1.13)" font-size="30" font-weight="bold" stroke="#000" stroke-width="0.6" stroke-linejoin="round">b</text>
<text transform="translate(917.3 700) scale(1 1.03)" font-size="29.5" font-weight="bold" stroke="#000" stroke-width="0.6" stroke-linejoin="round">c</text>
<text transform="translate(-1.1 1387.2) scale(1 1.13)" font-size="30" font-weight="bold" stroke="#000" stroke-width="0.6" stroke-linejoin="round">d</text>
<text transform="translate(917.3 1387) scale(1 1.03)" font-size="29.5" font-weight="bold" stroke="#000" stroke-width="0.6" stroke-linejoin="round">e</text>
</svg>
</body>
</html>
